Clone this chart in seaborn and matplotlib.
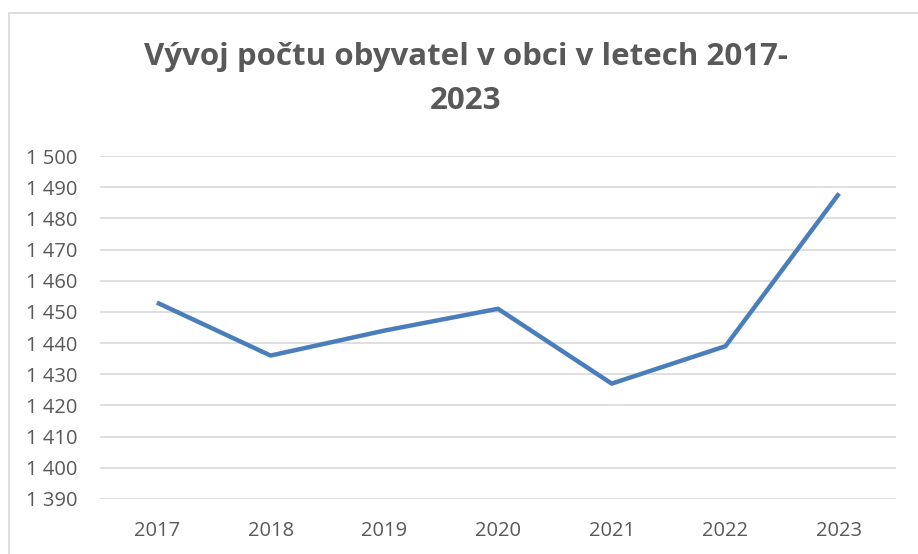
import matplotlib
matplotlib.use("Agg")
import matplotlib.pyplot as plt
import seaborn as sns
import pandas as pd
from matplotlib.patches import Rectangle

# data
years = ["2017", "2018", "2019", "2020", "2021", "2022", "2023"]
obyvatele = [1453, 1436, 1444, 1451, 1427, 1439, 1488]
y_ticks = list(range(1390, 1501, 10))

df = pd.DataFrame({"rok": years, "pocet": obyvatele})

sns.set_theme(style="white")
plt.rcParams["font.family"] = ["Open Sans", "DejaVu Sans"]

fig = plt.figure(figsize=(9.18, 5.54), dpi=100)
ax = fig.add_axes([100 / 918, 1 - 499 / 554, 796 / 918, 343 / 554])

sns.lineplot(data=df, x="rok", y="pocet", ax=ax, color="#4A7EBB",
             linewidth=3.2, solid_capstyle="butt", sort=False)

ax.set_xlim(-0.5, len(years) - 0.5)
ax.set_ylim(y_ticks[0], y_ticks[-1])
ax.set_yticks(y_ticks)
ax.set_yticklabels([f"{v:,}".replace(",", " ") for v in y_ticks])
ax.yaxis.grid(True, color="#D9D9D9", linewidth=1.2)
ax.set_axisbelow(True)
for s in ax.spines.values():
    s.set_visible(False)
ax.tick_params(axis="both", length=0, labelsize=14.5, labelcolor="#595959")
ax.tick_params(axis="y", pad=16)
ax.tick_params(axis="x", pad=16)
ax.set_xlabel("")
ax.set_ylabel("")

# titulek na dva radky jako v Excelu
fig.text(466 / 918, 1 - 65 / 554, "Vývoj počtu obyvatel v obci v letech 2017-",
         ha="center", va="baseline", fontsize=22.5, fontweight="bold", color="#595959")
fig.text(466 / 918, 1 - 109 / 554, "2023",
         ha="center", va="baseline", fontsize=22.5, fontweight="bold", color="#595959")

# chart area border (Excel-like)
fig.patches.append(Rectangle((9 / 918, -0.1), 1.2, 0.1 + 1 - 13 / 554,
                             transform=fig.transFigure, fill=False,
                             edgecolor="#D9D9D9", linewidth=1.2))

fig.savefig("out.png", dpi=100)
